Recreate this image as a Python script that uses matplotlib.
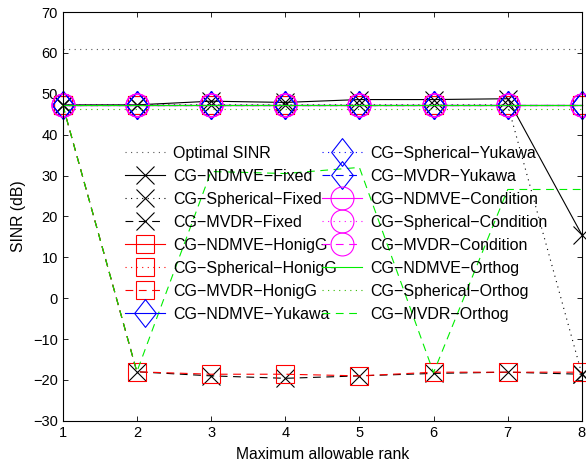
import numpy as np
import matplotlib.pyplot as plt
from matplotlib.path import Path

plt.rcParams['font.family'] = ['Liberation Sans', 'DejaVu Sans']
plt.rcParams['font.size'] = 10

# Data
rank = [1, 2, 3, 4, 5, 6, 7, 8]
optimal_sinr = [60.9, 60.9, 60.9, 60.9, 60.9, 60.9, 60.9, 60.9]
ndmve_fixed = [47.3, 47.3, 48.2, 47.9, 48.6, 48.6, 48.8, 15.5]
spherical_fixed = [47.3, 47.3, 47.3, 47.3, 47.3, 47.3, 47.3, -18.6]
mvdr_fixed = [47.3, -18.0, -19.0, -19.6, -19.0, -18.4, -18.1, -18.6]
ndmve_honig = [47.3, 47.3, 47.3, 47.3, 47.3, 47.3, 47.3, 47.3]
spherical_honig = [47.3, 47.3, 47.3, 47.3, 47.3, 47.3, 47.3, 47.3]
mvdr_honig = [47.3, -18.0, -18.6, -18.6, -19.0, -18.1, -18.1, -18.1]
ndmve_yukawa = [47.3, 47.3, 47.3, 47.3, 47.3, 47.3, 47.3, 47.3]
spherical_yukawa = [47.3, 47.3, 47.3, 47.3, 47.3, 47.3, 47.3, 47.3]
mvdr_yukawa = [47.3, 47.3, 47.3, 47.3, 47.3, 47.3, 47.3, 47.3]
ndmve_cond = [47.3, 47.3, 47.3, 47.3, 47.3, 47.3, 47.3, 47.3]
spherical_cond = [47.3, 47.3, 47.3, 47.3, 47.3, 47.3, 47.3, 47.3]
mvdr_cond = [47.3, 47.3, 47.3, 47.3, 47.3, 47.3, 47.3, 47.3]
ndmve_orthog = [47.3, 47.3, 47.3, 47.3, 47.3, 47.3, 47.3, 47.3]
spherical_orthog = [46.4, 46.4, 46.4, 46.4, 46.4, 46.4, 46.4, 46.4]
mvdr_orthog = [47.3, -18.0, 31.0, 30.5, 32.0, -18.2, 26.6, 26.6]

labels = ["Optimal SINR",
          "CG\u2212NDMVE\u2212Fixed", "CG\u2212Spherical\u2212Fixed", "CG\u2212MVDR\u2212Fixed",
          "CG\u2212NDMVE\u2212HonigG", "CG\u2212Spherical\u2212HonigG", "CG\u2212MVDR\u2212HonigG",
          "CG\u2212NDMVE\u2212Yukawa", "CG\u2212Spherical\u2212Yukawa", "CG\u2212MVDR\u2212Yukawa",
          "CG\u2212NDMVE\u2212Condition", "CG\u2212Spherical\u2212Condition", "CG\u2212MVDR\u2212Condition",
          "CG\u2212NDMVE\u2212Orthog", "CG\u2212Spherical\u2212Orthog", "CG\u2212MVDR\u2212Orthog"]

diamond = Path([(0, 1), (0.78, 0), (0, -1), (-0.78, 0), (0, 1)],
               [Path.MOVETO, Path.LINETO, Path.LINETO, Path.LINETO, Path.CLOSEPOLY])

dot = (0, (1, 4))
dash = (0, (7, 5))

series = [
    (optimal_sinr, '#555555', dot, None, 0),
    (ndmve_fixed, 'black', '-', 'x', 13.5),
    (spherical_fixed, 'black', dot, 'x', 13.5),
    (mvdr_fixed, 'black', dash, 'x', 13.5),
    (ndmve_honig, 'red', '-', 's', 13.5),
    (spherical_honig, 'red', dot, 's', 13.5),
    (mvdr_honig, 'red', dash, 's', 13.5),
    (ndmve_yukawa, 'blue', '-', diamond, 20),
    (spherical_yukawa, 'blue', dot, diamond, 20),
    (mvdr_yukawa, 'blue', dash, diamond, 20),
    (ndmve_cond, 'magenta', '-', 'o', 16.5),
    (spherical_cond, 'magenta', dot, 'o', 16.5),
    (mvdr_cond, 'magenta', dash, 'o', 16.5),
    (ndmve_orthog, '#00ee00', '-', None, 0),
    (spherical_orthog, '#33bb00', dot, None, 0),
    (mvdr_orthog, '#00ee00', dash, None, 0),
]

fig = plt.figure(figsize=(5.86, 4.65), dpi=100)
ax = fig.add_axes([0.107, 0.095, 0.886, 0.879])

handles = []
for (y, c, ls, m, ms), lab in zip(series, labels):
    h, = ax.plot(rank, y, color=c, linestyle=ls, marker=m, markersize=ms,
                 markerfacecolor='none', markeredgecolor=c, markeredgewidth=0.8,
                 linewidth=0.8, label=lab, clip_on=False)
    handles.append(h)

ax.set_xlim(1, 8)
ax.set_ylim(-30, 70)
ax.set_xticks(rank)
ax.set_yticks(np.arange(-30, 71, 10))
ax.tick_params(direction='in', top=True, right=True, length=3.5, width=0.6, labelsize=10.5)
for s in ax.spines.values():
    s.set_linewidth(0.8)
ax.set_xlabel("Maximum allowable rank", fontsize=11.3, labelpad=5)
ax.set_ylabel("SINR (dB)", fontsize=11.3, labelpad=5)

kw = dict(loc='upper left', frameon=False, borderpad=0, borderaxespad=0,
          handlelength=2.5, handletextpad=0.5, labelspacing=0.5, fontsize=11.5,
          numpoints=1, bbox_transform=fig.transFigure)
leg1 = ax.legend(handles[:8], labels[:8], bbox_to_anchor=(125 / 586, 1 - 146 / 465), **kw)
ax.add_artist(leg1)
ax.legend(handles[8:], labels[8:], bbox_to_anchor=(322 / 586, 1 - 146 / 465), **kw)

fig.savefig("out.png", dpi=100)
